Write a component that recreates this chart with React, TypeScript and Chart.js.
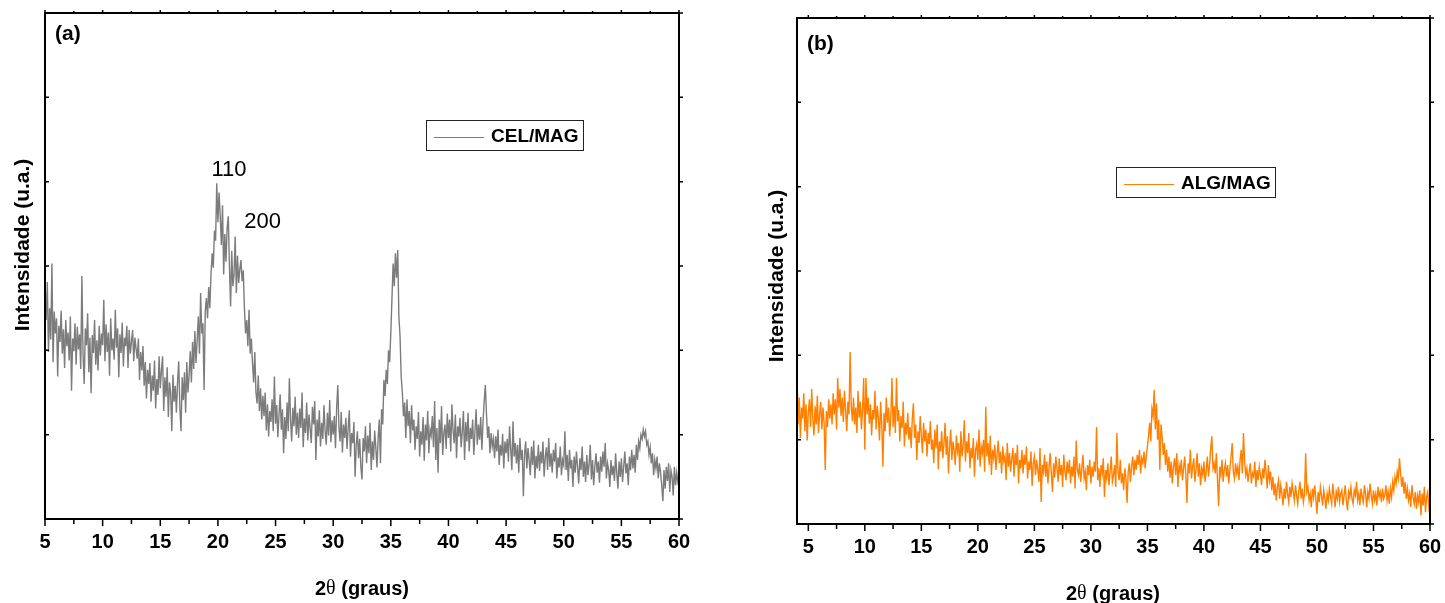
import React, { useEffect, useRef } from 'react';
import { Chart, registerables } from 'chart.js';

Chart.register(...registerables);

// ---------- DATA ----------
// CEL/MAG diffractogram, 2θ from 5.0° in 0.1° steps (arbitrary intensity units)
const CEL_START = 5.0;
const CEL_STEP = 0.1;
const CEL_MAG = [
  262, 236, 281, 198, 250, 213, 303, 186, 246, 220,
  238, 169, 229, 210, 247, 196, 225, 179, 236, 205,
  221, 188, 240, 152, 214, 199, 232, 183, 228, 201,
  219, 178, 288, 195, 160, 226, 206, 244, 174, 215,
  149, 218, 197, 236, 183, 212, 176, 229, 194, 220,
  206, 260, 187, 231, 198, 221, 170, 238, 200, 214,
  189, 248, 203, 226, 168, 219, 197, 233, 181, 215,
  205, 229, 179, 224, 196, 210, 224, 187, 215, 202,
  190, 214, 165, 198, 176, 205, 158, 186, 143, 177,
  160, 185, 139, 170, 152, 188, 131, 166, 147, 193,
  155, 176, 193, 128, 168, 145, 180, 121, 162, 150,
  104, 171, 139, 158, 126, 163, 187, 132, 104, 168,
  141, 174, 126, 186, 150, 170, 199, 162, 210, 178,
  223, 185, 212, 240, 196, 268, 220, 232, 153, 246,
  262, 238, 275, 250, 290, 315, 298, 342, 330, 398,
  352, 387, 360, 325, 372, 290, 338, 305, 345, 359,
  300, 252, 318, 276, 290, 335, 268, 312, 280, 296,
  307, 282, 295, 250, 220, 236, 205, 248, 196, 214,
  185, 162, 198, 150, 137, 170, 128, 155, 118, 146,
  122, 150, 105, 136, 98, 128, 115, 142, 104, 169,
  113, 135, 97, 124, 148, 106, 130, 78, 121, 95,
  138, 104, 167, 118, 92, 132, 110, 145, 100, 126,
  96, 131, 108, 150, 85, 119, 102, 138, 93, 124,
  107, 90, 133, 112, 140, 70, 118, 98, 129, 86,
  114, 95, 135, 104, 88, 126, 99, 141, 91, 117,
  100, 122, 84, 131, 159, 108, 92, 127, 79, 112,
  96, 120, 83, 108, 129, 74, 102, 90, 115, 50,
  88, 104, 72, 95, 62, 47, 96, 80, 110, 66,
  99, 78, 114, 58, 92, 70, 105, 84, 61, 96,
  118, 66, 130, 112, 165, 146, 177, 160, 200, 186,
  221, 262, 303, 276, 315, 286, 319, 240, 217, 169,
  150, 122, 138, 96, 142, 110, 128, 90, 135, 105,
  118, 82, 110, 95, 127, 74, 104, 88, 121, 69,
  112, 93, 128, 78, 106, 99, 122, 85, 140, 70,
  108, 55, 118, 90, 134, 76, 102, 112, 83, 125,
  96, 118, 80, 136, 105, 90, 124, 72, 110, 98,
  120, 85, 104, 128, 70, 115, 92, 126, 80, 108,
  95, 118, 76, 104, 130, 88, 112, 94, 121, 82,
  115, 140, 159, 124, 96, 110, 78, 102, 86, 95,
  72, 98, 80, 106, 64, 88, 75, 101, 60, 92,
  78, 95, 68, 110, 83, 58, 116, 74, 90, 66,
  88, 55, 96, 70, 82, 27, 76, 92, 60, 84,
  70, 52, 86, 64, 93, 48, 75, 60, 88, 57,
  80, 66, 92, 50, 74, 85, 58, 96, 62, 78,
  55, 82, 68, 90, 48, 73, 61, 86, 52, 70,
  64, 104, 58, 76, 45, 82, 60, 70, 38, 74,
  55, 80, 62, 42, 72, 58, 86, 50, 68, 44,
  76, 52, 65, 88, 47, 70, 40, 62, 78, 55,
  68, 43, 74, 56, 80, 62, 90, 48, 66, 58,
  38, 70, 52, 63, 45, 78, 55, 36, 68, 50,
  72, 44, 62, 80, 54, 66, 40, 74, 58, 82,
  60, 76, 55, 88, 70, 92, 84, 100, 95, 106,
  98, 104, 88, 92, 76, 85, 66, 78, 52, 70,
  60, 74, 48, 66, 55, 40, 21, 58, 36, 62,
  45, 66, 32, 58, 50, 28, 62, 40, 55, 44,
  50,
];

// ALG/MAG diffractogram, 2θ from 4.0° in 0.1° steps
const ALG_START = 4.0;
const ALG_STEP = 0.1;
const ALG_MAG = [
  178, 118, 150, 102, 138, 125, 155, 110, 142, 99,
  132, 148, 115, 160, 124, 105, 140, 118, 152, 108,
  130, 145, 112, 138, 120, 64, 134, 115, 148, 125,
  142, 118, 155, 130, 148, 112, 173, 138, 160, 128,
  150, 121, 158, 135, 110, 145, 130, 204, 140, 122,
  150, 118, 138, 108, 158, 126, 145, 112, 136, 173,
  88, 173, 130, 150, 119, 142, 105, 135, 124, 158,
  112, 140, 126, 99, 145, 118, 68, 132, 110, 150,
  120, 138, 104, 128, 173, 115, 140, 108, 173, 122,
  135, 98, 128, 114, 145, 92, 120, 106, 132, 100,
  115, 90, 125, 143, 102, 118, 76, 110, 96, 128,
  105, 84, 120, 98, 112, 80, 108, 95, 122, 88,
  100, 72, 112, 90, 118, 65, 98, 86, 110, 78,
  95, 120, 82, 104, 60, 92, 112, 76, 98, 88,
  70, 105, 86, 96, 62, 110, 80, 92, 123, 74,
  98, 84, 108, 66, 90, 78, 102, 56, 88, 95,
  76, 112, 68, 92, 84, 100, 62, 139, 80, 96,
  70, 105, 58, 88, 78, 94, 64, 82, 99, 72,
  86, 60, 92, 74, 80, 52, 96, 68, 84, 62,
  78, 90, 56, 84, 70, 94, 48, 76, 66, 88,
  60, 82, 70, 92, 54, 74, 64, 86, 45, 72,
  80, 58, 76, 64, 50, 90, 26, 70, 62, 82,
  56, 74, 48, 68, 84, 60, 38, 72, 55, 80,
  66, 50, 78, 58, 70, 44, 82, 62, 52, 74,
  60, 76, 48, 68, 56, 80, 42, 99, 64, 58,
  72, 50, 66, 82, 54, 62, 40, 70, 58, 76,
  48, 68, 56, 74, 62, 115, 52, 66, 44, 70,
  60, 78, 32, 64, 54, 72, 46, 62, 80, 50,
  58, 70, 44, 108, 62, 52, 76, 48, 60, 40,
  66, 54, 25, 62, 72, 50, 68, 80, 58, 76,
  64, 82, 70, 88, 60, 78, 72, 86, 66, 80,
  92, 104, 120, 98, 136, 128, 159, 112, 143, 100,
  124, 64, 118, 104, 82, 96, 70, 88, 62, 80,
  55, 74, 48, 68, 78, 58, 84, 44, 70, 62,
  76, 52, 66, 80, 58, 25, 72, 60, 88, 54,
  68, 78, 50, 64, 84, 56, 72, 46, 66, 58,
  74, 50, 62, 80, 56, 70, 90, 104, 66, 72,
  60, 84, 52, 21, 68, 58, 76, 50, 64, 72,
  56, 70, 48, 66, 80, 96, 62, 54, 72, 60,
  68, 52, 76, 88, 60, 108, 74, 58, 66, 50,
  62, 72, 48, 60, 56, 74, 44, 64, 52, 68,
  58, 46, 66, 54, 76, 60, 42, 70, 52, 62,
  40, 56, 34, 48, 28, 44, 52, 30, 46, 36,
  22, 42, 30, 50, 36, 26, 44, 32, 48, 38,
  28, 46, 34, 24, 40, 50, 30, 42, 26, 36,
  84, 38, 44, 28, 36, 20, 42, 32, 46, 30,
  12, 38, 26, 44, 34, 22, 40, 30, 18, 36,
  28, 42, 32, 24, 48, 34, 20, 38, 30, 44,
  26, 36, 40, 22, 34, 46, 28, 16, 38, 32,
  44, 30, 24, 40, 34, 50, 28, 36, 22, 42,
  32, 26, 46, 36, 20, 38, 30, 48, 34, 24,
  40, 28, 36, 22, 44, 32, 38, 26, 42, 30,
  34, 46, 28, 38, 24, 42, 32, 50, 40, 56,
  48, 62, 54, 78, 60, 44, 56, 36, 50, 30,
  42, 28, 36, 20, 46, 32, 24, 38, 18, 34,
  26, 40, 10, 36, 22, 44, 14, 32, 38, 20,
  30,
];

const X_TICKS = [5, 10, 15, 20, 25, 30, 35, 40, 45, 50, 55, 60];
const X_MINOR = [7.5, 12.5, 17.5, 22.5, 27.5, 32.5, 37.5, 42.5, 47.5, 52.5, 57.5];
const Y_TICKS = [0, 100, 200, 300, 400, 500, 600];

const PEAK_LABELS = ['110', '200'];
const PEAK_X = [20.96, 23.87];
const PEAK_Y = [414, 352];

// ---------- LAYOUT / STYLE ----------
const H = 603;
const SANS = '"Liberation Sans", Arial, sans-serif';
const SERIF = '"Liberation Serif", "Times New Roman", serif';

type PanelCfg = {
  label: string;
  series: string;
  values: number[];
  start: number;
  step: number;
  color: string;
  xMin: number;
  xMax: number;
  left: number;
  width: number;
  area: { left: number; top: number; right: number; bottom: number };
  legend: { x: number; y: number; w: number; h: number };
  tag: { x: number; y: number };
  yTitle: { x: number; y: number };
  xTitle: { x: number; y: number };
  peaks: boolean;
};

const PANELS: PanelCfg[] = [
  {
    label: '(a)', series: 'CEL/MAG', values: CEL_MAG, start: CEL_START, step: CEL_STEP,
    color: '#7c7c7c', xMin: 5, xMax: 60, left: 0, width: 722,
    area: { left: 45, top: 13, right: 679, bottom: 519 },
    legend: { x: 426, y: 120, w: 157, h: 30 },
    tag: { x: 55, y: 34 },
    yTitle: { x: 23, y: 245 },
    xTitle: { x: 362, y: 589 },
    peaks: true,
  },
  {
    label: '(b)', series: 'ALG/MAG', values: ALG_MAG, start: ALG_START, step: ALG_STEP,
    color: '#FF8000', xMin: 4, xMax: 60, left: 722, width: 723,
    area: { left: 75, top: 18, right: 708, bottom: 524 },
    legend: { x: 394, y: 167, w: 159, h: 30 },
    tag: { x: 85, y: 44 },
    yTitle: { x: 55, y: 276 },
    xTitle: { x: 391, y: 594 },
    peaks: false,
  },
];

function decorPlugin(cfg: PanelCfg) {
  return {
    id: 'decor',
    afterDraw(chart: any) {
      const ctx: CanvasRenderingContext2D = chart.ctx;
      const { left, top, right, bottom } = chart.chartArea;
      const xs = chart.scales.x;
      const ys = chart.scales.y;
      ctx.save();
      // frame
      ctx.strokeStyle = '#000';
      ctx.lineWidth = 2;
      ctx.strokeRect(left, top, right - left, bottom - top);
      // ticks
      ctx.lineWidth = 1.5;
      ctx.beginPath();
      X_TICKS.forEach((v) => {
        const p = xs.getPixelForValue(v);
        ctx.moveTo(p, bottom); ctx.lineTo(p, bottom + 7);
        ctx.moveTo(p, top); ctx.lineTo(p, top - 3);
      });
      X_MINOR.forEach((v) => {
        const p = xs.getPixelForValue(v);
        ctx.moveTo(p, bottom); ctx.lineTo(p, bottom + 5);
        ctx.moveTo(p, top); ctx.lineTo(p, top - 2);
      });
      Y_TICKS.forEach((v) => {
        const p = ys.getPixelForValue(v);
        ctx.moveTo(left, p); ctx.lineTo(left + 4, p);
        ctx.moveTo(right, p); ctx.lineTo(right + 4, p);
      });
      ctx.stroke();

      // panel tag
      ctx.fillStyle = '#000';
      ctx.font = `bold 21px ${SANS}`;
      ctx.textAlign = 'left';
      ctx.textBaseline = 'middle';
      ctx.fillText(cfg.label, cfg.tag.x, cfg.tag.y);

      // legend
      const lg = cfg.legend;
      ctx.lineWidth = 1;
      ctx.strokeStyle = '#222';
      ctx.strokeRect(lg.x + 0.5, lg.y + 0.5, lg.w, lg.h);
      const ly = Math.round(lg.y + lg.h / 2 + 2) + 0.5;
      ctx.strokeStyle = cfg.color;
      ctx.beginPath();
      ctx.moveTo(lg.x + 8, ly);
      ctx.lineTo(lg.x + 58, ly);
      ctx.stroke();
      ctx.fillStyle = '#000';
      ctx.font = `bold 19px ${SANS}`;
      ctx.fillText(cfg.series, lg.x + 65, lg.y + lg.h / 2 + 2);

      // peak labels
      if (cfg.peaks) {
        ctx.font = `22px ${SANS}`;
        ctx.textAlign = 'center';
        PEAK_LABELS.forEach((t, i) => {
          ctx.fillText(t, xs.getPixelForValue(PEAK_X[i]), ys.getPixelForValue(PEAK_Y[i]));
        });
      }

      // y title
      ctx.save();
      ctx.translate(cfg.yTitle.x, cfg.yTitle.y);
      ctx.rotate(-Math.PI / 2);
      ctx.font = `bold 21px ${SANS}`;
      ctx.textAlign = 'center';
      ctx.textBaseline = 'middle';
      ctx.fillText('Intensidade (u.a.)', 0, 0);
      ctx.restore();

      // x title: 2θ (graus)
      const parts = [
        { t: '2', f: `bold 20px ${SANS}` },
        { t: 'θ', f: `20px ${SERIF}` },
        { t: ' (graus)', f: `bold 20px ${SANS}` },
      ];
      let total = 0;
      const widths = parts.map((p) => {
        ctx.font = p.f;
        const w = ctx.measureText(p.t).width;
        total += w;
        return w;
      });
      let x = cfg.xTitle.x - total / 2;
      ctx.textAlign = 'left';
      ctx.textBaseline = 'middle';
      parts.forEach((p, i) => {
        ctx.font = p.f;
        ctx.fillText(p.t, x, cfg.xTitle.y);
        x += widths[i];
      });
      ctx.restore();
    },
  };
}

function Panel({ cfg }: { cfg: PanelCfg }) {
  const ref = useRef<HTMLCanvasElement>(null);
  useEffect(() => {
    const canvas = ref.current!;
    const area = cfg.area;
    const data = cfg.values.map((v, i) => ({ x: +(cfg.start + i * cfg.step).toFixed(2), y: v }));
    const chart = new Chart(canvas, {
      type: 'line',
      data: {
        datasets: [
          {
            label: cfg.series,
            data,
            borderColor: cfg.color,
            borderWidth: 1.4,
            pointRadius: 0,
            tension: 0,
            fill: false,
          },
        ],
      },
      options: {
        responsive: false,
        animation: false,
        devicePixelRatio: 1,
        events: [],
        layout: { padding: { left: 0, top: area.top, right: cfg.width - area.right, bottom: 0 } },
        plugins: { legend: { display: false }, tooltip: { enabled: false }, title: { display: false } },
        scales: {
          x: {
            type: 'linear',
            min: cfg.xMin,
            max: cfg.xMax,
            position: 'bottom',
            grid: { display: false, drawTicks: false },
            border: { display: false },
            ticks: {
              font: { family: SANS, size: 20, weight: 'bold' },
              color: '#000',
              padding: 11,
              maxRotation: 0,
              autoSkip: false,
            },
            afterBuildTicks: (s: any) => { s.ticks = X_TICKS.map((v) => ({ value: v })); },
            afterFit: (s: any) => { s.height = H - area.bottom; s.paddingLeft = 0; s.paddingRight = 0; },
          },
          y: {
            type: 'linear',
            min: 0,
            max: 600,
            grid: { display: false, drawTicks: false },
            border: { display: false },
            ticks: { display: false },
            afterBuildTicks: (s: any) => { s.ticks = Y_TICKS.map((v) => ({ value: v })); },
            afterFit: (s: any) => { s.width = area.left; s.paddingTop = 0; s.paddingBottom = 0; },
          },
        },
      } as any,
      plugins: [decorPlugin(cfg)],
    });
    return () => chart.destroy();
  }, [cfg]);
  return (
    <canvas
      ref={ref}
      width={cfg.width}
      height={H}
      style={{ position: 'absolute', left: cfg.left, top: 0, width: cfg.width, height: H }}
    />
  );
}

export default function App() {
  return (
    <div style={{ position: 'absolute', left: 0, top: 0, width: 1445, height: H, background: '#fff', overflow: 'hidden' }}>
      {PANELS.map((p) => (
        <Panel key={p.label} cfg={p} />
      ))}
    </div>
  );
}
